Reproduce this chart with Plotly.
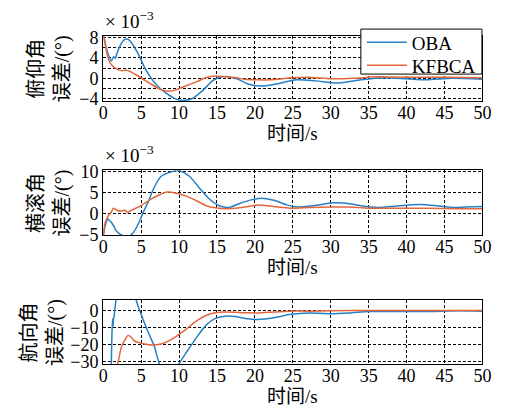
import plotly.graph_objects as go

# ---------------- data ----------------
# Pitch error (x1e-3 deg)
t_pitch_oba = [0, 0.1, 0.5, 1.07, 1.25, 1.4, 1.6, 1.8, 2.35, 2.86, 3.3, 3.7, 4.6, 5.4, 6.3, 7.1, 8.2, 9.7,
               10.8, 11.8, 13.1, 14.4, 15.5, 16.5, 17.8, 19.1, 20.8, 22.5, 25.5, 28, 31, 34, 37, 40,
               42.6, 46, 50]
pitch_oba = [8.5, 8.0, 5.4, 3.4, 3.9, 4.2, 3.9, 4.8, 6.7, 7.6, 7.6, 7.0, 4.8, 2.3, 0.1, -1.4, -2.8, -4.1,
             -4.3, -3.9, -2.4, -0.5, 0.25, 0.3, -0.2, -1.1, -1.5, -1.2, -0.3, -0.5, -0.9, -0.3, 0.1, -0.1,
             -0.3, 0.0, -0.2]
t_pitch_kf = [0, 0.3, 0.5, 0.95, 1.6, 2.4, 3.1, 3.7, 4.6, 5.4, 6.5, 7.6, 8.6, 9.7, 11.0, 12.3, 13.5, 14.8,
              16.1, 17.4, 18.7, 20.2, 22, 25, 27, 30, 33, 36, 40, 45, 50]
pitch_kf = [8.6, 6.4, 4.8, 2.9, 2.0, 1.5, 1.6, 1.2, 0.45, -0.3, -1.3, -2.2, -2.5, -2.2, -1.4, -0.7, 0.1, 0.45,
            0.3, 0.15, -0.2, -0.3, -0.3, 0.1, 0.2, -0.1, 0.0, 0.3, 0.2, 0.2, 0.1]

# Roll error (x1e-3 deg)
t_roll_oba = [0, 0.3, 0.65, 0.8, 0.94, 1.1, 1.24, 1.4, 1.6, 2.0, 2.65, 3.3, 3.9, 4.6, 5.2, 5.9, 6.7, 7.6, 8.6,
              10.0, 11.4, 12.7, 14.0, 15.3, 16.6, 17.8, 19.5, 20.8, 22.5, 24.2, 25.5, 27.7, 30.3, 32, 34,
              36.2, 38.4, 40.5, 41.8, 43.9, 46, 47.8, 50]
roll_oba = [-5.6, -2.6, -1.3, -1.6, -1.9, -2.1, -2.6, -3.0, -3.8, -4.6, -5.3, -5.5, -4.7, -2.6, 0.0, 2.7, 6.2,
            8.9, 9.8, 10.3, 8.9, 6.1, 3.5, 1.9, 1.5, 2.3, 3.3, 3.7, 3.2, 2.1, 1.6, 1.9, 2.6, 2.5, 1.9,
            1.5, 1.8, 2.1, 2.2, 1.9, 1.5, 1.6, 1.7]
t_roll_kf = [0, 0.2, 0.4, 0.7, 1.06, 1.37, 1.8, 2.3, 2.9, 3.2, 3.7, 5.0, 6.3, 7.5, 8.4, 9.7, 10.95, 12.3,
             13.6, 14.8, 16.6, 18.7, 20.4, 22.5, 24.7, 27.2, 29.8, 32.4, 35, 38.4, 42.6, 46.9, 50]
roll_kf = [-5.6, -2.6, -1.5, -0.4, 0.4, 1.3, 0.8, 0.6, 0.8, 0.3, 0.8, 1.9, 3.5, 4.6, 5.2, 4.9, 4.2, 3.1,
           1.9, 1.4, 1.2, 1.6, 2.1, 1.7, 1.3, 1.5, 1.6, 1.6, 1.3, 1.3, 1.3, 1.2, 1.2]

# Yaw error (deg)
t_yaw_oba = [0, 0.6, 1.0, 1.08, 1.15, 1.2, 1.25, 1.3, 1.35, 1.45, 1.7, 2.5, 3.5, 4.35, 5.85, 6.7, 7.4, 8.7,
             10.0, 11.0, 12.3, 13.6, 14.8, 16.1, 17.4, 18.7, 20.4, 22.5, 24.7, 27.2, 29.8, 32.4, 35, 38.4,
             42.6, 46.9, 50]
yaw_oba = [-50, -70, -50, -30, -14, -9, -5, -9, -5, -3, 7, 25, 25, 6, -12, -20.7, -31.5, -45,
           -31.5, -24.5, -16, -8.5, -4.7, -3.4, -3.6, -4.7, -5.3, -4.3, -2.3, -1.5, -1.9, -1.5, -0.6, -0.6,
           -0.6, -0.2, -0.4]
t_yaw_kf = [0, 0.02, 1.0, 1.85, 2.0, 2.4, 2.86, 3.3, 3.7, 4.1, 4.6, 5.4, 6.3, 7.6, 8.4, 9.7, 10.95, 12.3,
            13.6, 14.8, 16.1, 18.7, 20.4, 22.5, 24.7, 27.2, 30, 35, 40, 45, 50]
yaw_kf = [40, -80, -70, -32, -29.7, -21.6, -17.3, -14.7, -15.7, -17.9, -18.8, -19.8, -20.3, -19.8, -18.5,
          -15.1, -11, -6.2, -2.8, -1.3, -0.9, -1.3, -1.5, -0.9, -0.4, -0.4, -0.2, 0, 0, 0, 0]

series_names = ["OBA", "KFBCA"]
ylabels = ["俯仰角<br>误差/(°)", "横滚角<br>误差/(°)", "航向角<br>误差/(°)"]
xlabel = "时间/s"
x_ticks = [0, 5, 10, 15, 20, 25, 30, 35, 40, 45, 50]
y1_ticks = [-4, -2, 0, 2, 4, 6, 8]
y1_text = ["−4", "", "0", "", "4", "", "8"]
y2_ticks = [-5, 0, 5, 10]
y2_text = ["−5", "0", "5", "10"]
y3_ticks = [-30, -20, -10, 0]
y3_text = ["−30", "−20", "−10", "0"]

# ---------------- styling ----------------
W, H = 506, 419
BLUE = "#2680c6"
ORANGE = "#e4673c"
SERIF = "Liberation Serif, Times New Roman, serif"
CJK = "Liberation Serif, Noto Sans CJK SC, serif"

x0, x1 = 101, 491
panels = [(28.5, 96.0, [-4.4, 8.2]), (168.5, 236.5, [-5.2, 10.4]), (304.0, 371.0, [-31.6, 6.2])]
ytitle_x = [46, 46, 38]

fig = go.Figure()
data = [
    (t_pitch_oba, pitch_oba, t_pitch_kf, pitch_kf),
    (t_roll_oba, roll_oba, t_roll_kf, roll_kf),
    (t_yaw_oba, yaw_oba, t_yaw_kf, yaw_kf),
]
for i, (ta, va, tb, vb) in enumerate(data):
    xa = "x" if i == 0 else f"x{i+1}"
    ya = "y" if i == 0 else f"y{i+1}"
    fig.add_trace(go.Scatter(x=ta, y=va, mode="lines", name=series_names[0], xaxis=xa, yaxis=ya,
                             line=dict(color=BLUE, width=1.5, shape="spline", smoothing=0.7),
                             showlegend=(i == 0), legend="legend"))
    fig.add_trace(go.Scatter(x=tb, y=vb, mode="lines", name=series_names[1], xaxis=xa, yaxis=ya,
                             line=dict(color=ORANGE, width=1.5, shape="spline", smoothing=0.7),
                             showlegend=(i == 0), legend="legend2"))

layout = dict(width=W, height=H, autosize=False, margin=dict(l=0, r=0, t=0, b=0),
              paper_bgcolor="white", plot_bgcolor="white",
              font=dict(family=SERIF, size=18, color="black"))

ytick_sets = [(y1_ticks, y1_text), (y2_ticks, y2_text), (y3_ticks, y3_text)]
annotations = []
for i, (top, bot, yr) in enumerate(panels):
    k = "" if i == 0 else str(i + 1)
    common = dict(showline=True, linecolor="black", linewidth=1.2, mirror=True,
                  showgrid=True, gridcolor="black", gridwidth=1, griddash="3px,2px",
                  zeroline=False, ticks="", ticklen=0, layer="below traces",
                  tickfont=dict(family=SERIF, size=18, color="black"))
    layout["xaxis" + k] = dict(domain=[x0 / W, x1 / W], range=[0, 50], anchor="y" + k,
                               tickvals=x_ticks, ticktext=[str(v) for v in x_ticks],
                               ticklabelstandoff=-5, **common)
    tv, tt = ytick_sets[i]
    layout["yaxis" + k] = dict(domain=[1 - bot / H, 1 - top / H], range=yr, anchor="x" + k,
                               tickvals=tv, ticktext=tt, ticklabelstandoff=0, **common)
    annotations.append(dict(text=ylabels[i], textangle=-90, x=ytitle_x[i] / W, y=1 - (top + bot) / 2 / H,
                            xref="paper", yref="paper", xanchor="center", yanchor="middle",
                            showarrow=False, font=dict(family=CJK, size=20, color="black")))
    annotations.append(dict(text=xlabel, x=(x0 + x1) / 2 / W, y=1 - (bot + 34) / H,
                            xref="paper", yref="paper", xanchor="center", yanchor="middle",
                            showarrow=False, font=dict(family=CJK, size=19, color="black")))
    if i < 2:
        annotations.append(dict(text="× 10<sup>−3</sup>", x=x0 / W, y=1 - (top - 2) / H,
                                xref="paper", yref="paper", xanchor="left", yanchor="bottom",
                                showarrow=False, font=dict(family=SERIF, size=19, color="black")))

layout["annotations"] = annotations
# legend box (decoration) and two single-entry legends placed inside it
layout["shapes"] = [dict(type="rect", xref="paper", yref="paper",
                         x0=366 / W, x1=490.5 / W, y0=1 - 68 / H, y1=1 - 21 / H,
                         line=dict(color="black", width=1), fillcolor="white", layer="above")]
leg_common = dict(xanchor="left", yanchor="middle", bgcolor="rgba(0,0,0,0)", borderwidth=0,
                  font=dict(family=SERIF, size=19, color="black"), itemwidth=40)
layout["legend"] = dict(x=367 / W, y=1 - 35 / H, **leg_common)
layout["legend2"] = dict(x=367 / W, y=1 - 59 / H, **leg_common)
layout["showlegend"] = True
fig.update_layout(**layout)
fig.write_html("out.html", config={"displayModeBar": False})
